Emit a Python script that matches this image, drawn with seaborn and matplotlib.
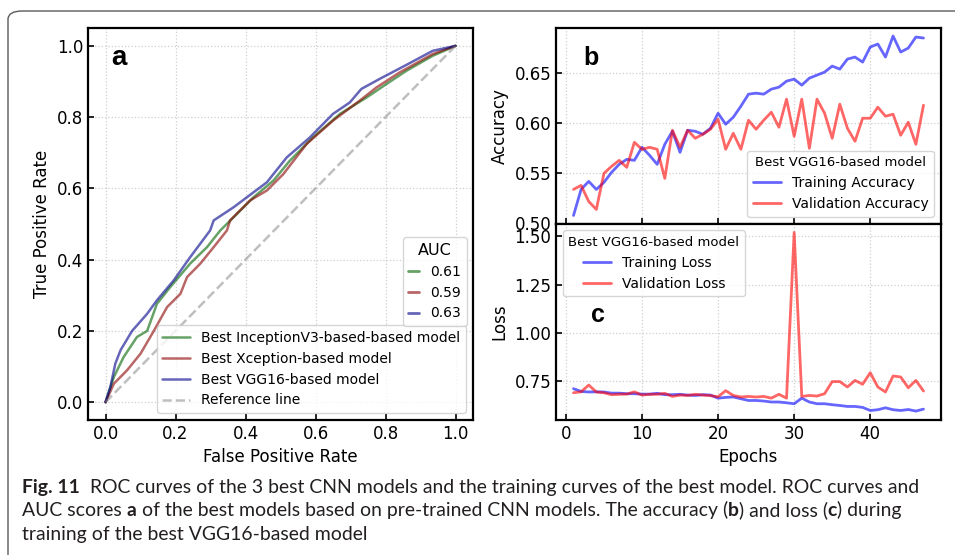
import numpy as np
import pandas as pd
import matplotlib
matplotlib.use("Agg")
import matplotlib.pyplot as plt
import seaborn as sns
from matplotlib.lines import Line2D
from matplotlib.patches import FancyBboxPatch

# ROC curves (panel a)
fpr_incep = [0.0, 0.024, 0.052, 0.09, 0.119, 0.147, 0.185, 0.242, 0.29, 0.328, 0.366, 0.423,
             0.48, 0.527, 0.593, 0.67, 0.746, 0.803, 0.86, 0.935, 1.0]
tpr_incep = [0.0, 0.071, 0.127, 0.183, 0.20, 0.276, 0.323, 0.389, 0.435, 0.482, 0.519, 0.575,
             0.622, 0.678, 0.743, 0.809, 0.855, 0.893, 0.93, 0.972, 1.0]
fpr_xcep = [0.0, 0.024, 0.062, 0.1, 0.138, 0.176, 0.214, 0.233, 0.271, 0.309, 0.347, 0.356,
            0.413, 0.461, 0.508, 0.575, 0.65, 0.726, 0.774, 0.84, 0.935, 1.0]
tpr_xcep = [0.0, 0.052, 0.09, 0.136, 0.20, 0.267, 0.304, 0.351, 0.389, 0.435, 0.482, 0.51,
            0.566, 0.594, 0.64, 0.725, 0.79, 0.846, 0.883, 0.925, 0.977, 1.0]
fpr_vgg = [0.0, 0.014, 0.028, 0.043, 0.076, 0.119, 0.147, 0.195, 0.242, 0.299, 0.309, 0.366,
           0.404, 0.461, 0.518, 0.584, 0.65, 0.698, 0.731, 0.783, 0.855, 0.935, 1.0]
tpr_vgg = [0.0, 0.043, 0.108, 0.146, 0.20, 0.248, 0.286, 0.342, 0.407, 0.482, 0.51, 0.547,
           0.575, 0.617, 0.687, 0.743, 0.809, 0.841, 0.879, 0.907, 0.944, 0.986, 1.0]
roc_names = ["Best InceptionV3-based-based model", "Best Xception-based model", "Best VGG16-based model"]
auc_labels = ["0.61", "0.59", "0.63"]
roc_colors = ["darkgreen", "darkred", "darkblue"]

# training history of the best VGG16 model (panels b and c)
epochs = list(range(1, 48))
train_acc = [0.508, 0.534, 0.542, 0.534, 0.541, 0.551, 0.559, 0.564, 0.563, 0.576,
             0.568, 0.559, 0.579, 0.592, 0.571, 0.593, 0.592, 0.589, 0.595, 0.610,
             0.599, 0.606, 0.617, 0.629, 0.630, 0.629, 0.634, 0.636, 0.642, 0.644,
             0.638, 0.645, 0.648, 0.651, 0.657, 0.654, 0.664, 0.666, 0.661, 0.676,
             0.679, 0.666, 0.687, 0.671, 0.675, 0.686, 0.685]
val_acc = [0.534, 0.538, 0.522, 0.514, 0.550, 0.557, 0.563, 0.556, 0.581, 0.574,
           0.576, 0.574, 0.545, 0.593, 0.576, 0.593, 0.585, 0.589, 0.594, 0.604,
           0.574, 0.590, 0.574, 0.603, 0.594, 0.603, 0.611, 0.596, 0.624, 0.587,
           0.624, 0.575, 0.624, 0.610, 0.585, 0.619, 0.595, 0.582, 0.605, 0.605,
           0.616, 0.607, 0.609, 0.588, 0.601, 0.579, 0.618]
train_loss = [0.710, 0.696, 0.693, 0.694, 0.693, 0.687, 0.687, 0.684, 0.684, 0.682,
              0.682, 0.686, 0.679, 0.679, 0.681, 0.677, 0.675, 0.679, 0.677, 0.661,
              0.665, 0.667, 0.658, 0.649, 0.649, 0.646, 0.641, 0.641, 0.637, 0.632,
              0.661, 0.641, 0.632, 0.632, 0.627, 0.623, 0.618, 0.618, 0.613, 0.597,
              0.601, 0.611, 0.601, 0.597, 0.602, 0.594, 0.604]
val_loss = [0.689, 0.694, 0.729, 0.693, 0.689, 0.679, 0.681, 0.682, 0.694, 0.677,
            0.681, 0.681, 0.686, 0.670, 0.677, 0.675, 0.681, 0.677, 0.674, 0.668,
            0.700, 0.675, 0.667, 0.670, 0.667, 0.670, 0.661, 0.681, 0.661, 1.521,
            0.670, 0.675, 0.672, 0.684, 0.747, 0.747, 0.719, 0.753, 0.733, 0.793,
            0.719, 0.693, 0.776, 0.771, 0.715, 0.753, 0.698]

caption_lines = [
    [("Fig. 11", True), ("  ROC curves of the 3 best CNN models and the training curves of the best model. ROC curves and", False)],
    [("AUC scores ", False), ("a", True), (" of the best models based on pre-trained CNN models. The accuracy (", False),
     ("b", True), (") and loss (", False), ("c", True), (") during", False)],
    [("training of the best VGG16-based model", False)],
]

sns.set_style("ticks")
plt.rcParams.update({
    "font.family": ["DejaVu Sans"],
    "axes.edgecolor": "black",
    "axes.linewidth": 1.6,
    "xtick.direction": "in",
    "ytick.direction": "in",
    "xtick.major.size": 4.5,
    "ytick.major.size": 4.5,
    "xtick.major.width": 1.2,
    "ytick.major.width": 1.2,
    "xtick.color": "black",
    "ytick.color": "black",
    "xtick.labelsize": 12,
    "ytick.labelsize": 12,
    "axes.labelsize": 12,
    "axes.labelcolor": "black",
    "text.color": "black",
})

W, H = 955, 555
fig = plt.figure(figsize=(W / 100, H / 100), dpi=100)


def box(l, t, r, b):
    return [l / W, 1 - b / H, (r - l) / W, (b - t) / H]


ax_a = fig.add_axes(box(88, 28, 473, 420))
ax_b = fig.add_axes(box(556, 28, 941, 223.5))
ax_c = fig.add_axes(box(556, 223.5, 941, 420), sharex=ax_b)

for ax in (ax_a, ax_b, ax_c):
    ax.grid(True, linestyle=":", color="#cfcfcf", linewidth=0.9)
    ax.set_axisbelow(True)

# panel a: ROC curves
for fx, ty, name, col in zip([fpr_incep, fpr_xcep, fpr_vgg], [tpr_incep, tpr_xcep, tpr_vgg],
                             roc_names, roc_colors):
    sns.lineplot(x=fx, y=ty, ax=ax_a, color=col, alpha=0.6, linewidth=1.8, label=name,
                 sort=False, estimator=None)
sns.lineplot(x=[0, 1], y=[0, 1], ax=ax_a, color="grey", alpha=0.5, linewidth=1.8,
             linestyle="--", label="Reference line", sort=False, estimator=None)
ax_a.set_xlim(-0.05, 1.05)
ax_a.set_ylim(-0.05, 1.05)
ax_a.set_xticks(np.arange(0, 1.01, 0.2))
ax_a.set_yticks(np.arange(0, 1.01, 0.2))
ax_a.xaxis.set_major_formatter(matplotlib.ticker.FormatStrFormatter("%.1f"))
ax_a.yaxis.set_major_formatter(matplotlib.ticker.FormatStrFormatter("%.1f"))
ax_a.set_xlabel("False Positive Rate")
ax_a.set_ylabel("True Positive Rate")
leg_main = ax_a.legend(loc="lower right", fontsize=10, borderaxespad=0.5)
auc_handles = [Line2D([], [], color=c, alpha=0.6, linewidth=2) for c in roc_colors]
leg_auc = ax_a.legend(auc_handles, auc_labels, title="AUC", loc="lower right",
                      bbox_to_anchor=((467 - 88) / 385, (420 - 326) / 392),
                      borderaxespad=0, fontsize=10, title_fontsize=11.5, handlelength=0.8)
ax_a.add_artist(leg_main)
ax_a.text(0.06, 0.906, "a", transform=ax_a.transAxes, fontsize=20, fontweight="bold",
          family="Liberation Sans", va="baseline")

# panel b: accuracy
sns.lineplot(x=epochs, y=train_acc, ax=ax_b, color="blue", alpha=0.6, linewidth=2,
             label="Training Accuracy")
sns.lineplot(x=epochs, y=val_acc, ax=ax_b, color="red", alpha=0.6, linewidth=2,
             label="Validation Accuracy")
ax_b.set_ylim(0.50, 0.695)
ax_b.set_yticks([0.50, 0.55, 0.60, 0.65])
ax_b.yaxis.set_major_formatter(matplotlib.ticker.FormatStrFormatter("%.2f"))
ax_b.set_ylabel("Accuracy")
ax_b.set_xlabel("")
ax_b.tick_params(labelbottom=False)
ax_b.legend(title="Best VGG16-based model", loc="lower right", fontsize=10, title_fontsize=9.5)
ax_b.text(0.07, 0.81, "b", transform=ax_b.transAxes, fontsize=18, fontweight="bold",
          family="Liberation Sans", va="baseline")

# panel c: loss
sns.lineplot(x=epochs, y=train_loss, ax=ax_c, color="blue", alpha=0.6, linewidth=2,
             label="Training Loss")
sns.lineplot(x=epochs, y=val_loss, ax=ax_c, color="red", alpha=0.6, linewidth=2,
             label="Validation Loss")
ax_c.set_xticks([0, 10, 20, 30, 40])
ax_c.set_yticks([0.75, 1.00, 1.25, 1.50])
ax_c.yaxis.set_major_formatter(matplotlib.ticker.FormatStrFormatter("%.2f"))
ax_c.set_ylabel("Loss")
ax_c.set_xlabel("Epochs")
ax_c.legend(title="Best VGG16-based model", loc="upper left", fontsize=10, title_fontsize=9.5)
ax_c.text(0.091, 0.5, "c", transform=ax_c.transAxes, fontsize=18, fontweight="bold",
          family="Liberation Sans", va="baseline")

# rounded frame around the figure, running off the right and bottom edges
frame = FancyBboxPatch((8 / W, -0.1), 1.2, 1 - 11 / H + 0.1, transform=fig.transFigure,
                       boxstyle="round,pad=0,rounding_size=0.015", facecolor="none",
                       edgecolor="#5a5a5a", linewidth=1.0, clip_on=False)
fig.patches.append(frame)

# caption with bold runs
cap_family = ["Lato", "DejaVu Sans"]
renderer = fig.canvas.get_renderer()


def line_width(runs, size):
    total = 0
    for txt, bold in runs:
        t = fig.text(0, 0, txt, fontsize=size, family=cap_family,
                     fontweight="bold" if bold else "normal")
        total += t.get_window_extent(renderer).width
        t.remove()
    return total


cap_size = 10 * 895 / line_width(caption_lines[0], 10)
for runs, base in zip(caption_lines, [493, 516, 540]):
    x = 22
    for txt, bold in runs:
        t = fig.text(x / W, 1 - base / H, txt, fontsize=cap_size, family=cap_family,
                     fontweight="bold" if bold else "normal", va="baseline", color="#231f20")
        x += t.get_window_extent(renderer).width

fig.savefig("out.png", dpi=100)
